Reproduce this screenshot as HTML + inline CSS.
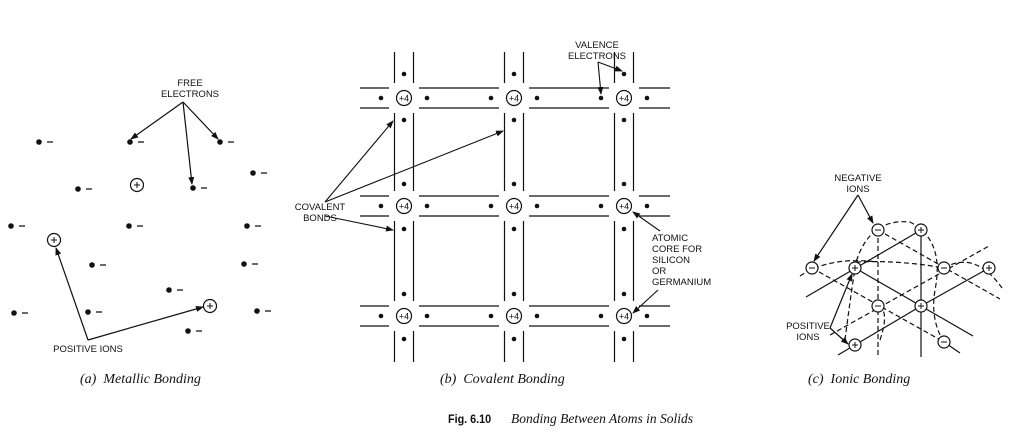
<!DOCTYPE html>
<html><head><meta charset="utf-8"><style>
html,body{margin:0;padding:0;background:#fff;}
svg{display:block;}
.s{font-family:"Liberation Sans",sans-serif;font-size:9.5px;fill:#111;}
.c{font-family:"Liberation Serif",serif;font-style:italic;font-size:14px;fill:#111;}
</style></head><body>
<svg width="1011" height="446" viewBox="0 0 1011 446" xmlns="http://www.w3.org/2000/svg">
<defs><marker id="a" markerWidth="8" markerHeight="6" refX="7" refY="3" orient="auto" markerUnits="userSpaceOnUse"><path d="M0,0 L8,3 L0,6 z" fill="#111"/></marker></defs>
<g stroke="#111" fill="none" stroke-width="1.2">
<line x1="183" y1="102" x2="131" y2="139" marker-end="url(#a)"/>
<line x1="183" y1="102" x2="192" y2="184" marker-end="url(#a)"/>
<line x1="183" y1="102" x2="218" y2="139" marker-end="url(#a)"/>
<line x1="88" y1="340" x2="56" y2="248" marker-end="url(#a)"/>
<line x1="88" y1="340" x2="203" y2="307" marker-end="url(#a)"/>
<circle cx="137" cy="185" r="6.5"/><circle cx="54" cy="240" r="6.5"/><circle cx="210" cy="306" r="6.5"/>
</g>
<g fill="#111">
<circle cx="39" cy="142" r="2.8"/><circle cx="130" cy="142" r="2.8"/><circle cx="220" cy="142" r="2.8"/>
<circle cx="253" cy="173" r="2.8"/><circle cx="78" cy="189" r="2.8"/><circle cx="193" cy="188" r="2.8"/>
<circle cx="11" cy="226" r="2.8"/><circle cx="129" cy="226" r="2.8"/><circle cx="247" cy="226" r="2.8"/>
<circle cx="92" cy="265" r="2.8"/><circle cx="244" cy="264" r="2.8"/><circle cx="169" cy="290" r="2.8"/>
<circle cx="14" cy="313" r="2.8"/><circle cx="88" cy="312" r="2.8"/><circle cx="257" cy="311" r="2.8"/>
<circle cx="188" cy="331" r="2.8"/>
</g>
<g stroke="#111" stroke-width="1.3">
<path d="M47,142h6M138,142h6M228,142h6M261,173h6M86,189h6M201,188h6M19,226h6M137,226h6M255,226h6M100,265h6M252,264h6M177,290h6M22,313h6M96,312h6M265,311h6M196,331h6"/>
<path d="M134,185h6M137,182v6M51,240h6M54,237v6M207,306h6M210,303v6" stroke-width="1"/>
</g>
<text class="s" x="190" y="86" text-anchor="middle">FREE</text>
<text class="s" x="190" y="97" text-anchor="middle">ELECTRONS</text>
<text class="s" x="88" y="352" text-anchor="middle">POSITIVE IONS</text>
<text class="c" x="80" y="383">(a)&#160; Metallic Bonding</text>

<g stroke="#111" stroke-width="1.2" fill="none">
<path d="
M394.5,52V83M394.5,113V191M394.5,221V301M394.5,331V362
M413.5,52V83M413.5,113V191M413.5,221V301M413.5,331V362
M504.5,52V83M504.5,113V191M504.5,221V301M504.5,331V362
M523.5,52V83M523.5,113V191M523.5,221V301M523.5,331V362
M614.5,52V83M614.5,113V191M614.5,221V301M614.5,331V362
M633.5,52V83M633.5,113V191M633.5,221V301M633.5,331V362
M360,88H389M419,88H499M529,88H609M639,88H670
M360,108H389M419,108H499M529,108H609M639,108H670
M360,196H389M419,196H499M529,196H609M639,196H670
M360,216H389M419,216H499M529,216H609M639,216H670
M360,306H389M419,306H499M529,306H609M639,306H670
M360,326H389M419,326H499M529,326H609M639,326H670"/>
<circle cx="404" cy="98" r="7.5"/><circle cx="514" cy="98" r="7.5"/><circle cx="624" cy="98" r="7.5"/>
<circle cx="404" cy="206" r="7.5"/><circle cx="514" cy="206" r="7.5"/><circle cx="624" cy="206" r="7.5"/>
<circle cx="404" cy="316" r="7.5"/><circle cx="514" cy="316" r="7.5"/><circle cx="624" cy="316" r="7.5"/>
<g stroke-width="1.1">
<line x1="598" y1="62" x2="622" y2="71" marker-end="url(#a)"/>
<line x1="598" y1="62" x2="601" y2="94" marker-end="url(#a)"/>
<line x1="325" y1="202" x2="393" y2="121" marker-end="url(#a)"/>
<line x1="325" y1="202" x2="503" y2="131" marker-end="url(#a)"/>
<line x1="325" y1="216" x2="393" y2="230" marker-end="url(#a)"/>
<line x1="660" y1="231" x2="633" y2="212" marker-end="url(#a)"/>
<line x1="658" y1="290" x2="633" y2="313" marker-end="url(#a)"/>
</g>
</g>
<g fill="#111">
<circle cx="381" cy="98" r="2.3"/><circle cx="427" cy="98" r="2.3"/><circle cx="491" cy="98" r="2.3"/><circle cx="537" cy="98" r="2.3"/><circle cx="601" cy="98" r="2.3"/><circle cx="647" cy="98" r="2.3"/>
<circle cx="381" cy="206" r="2.3"/><circle cx="427" cy="206" r="2.3"/><circle cx="491" cy="206" r="2.3"/><circle cx="537" cy="206" r="2.3"/><circle cx="601" cy="206" r="2.3"/><circle cx="647" cy="206" r="2.3"/>
<circle cx="381" cy="316" r="2.3"/><circle cx="427" cy="316" r="2.3"/><circle cx="491" cy="316" r="2.3"/><circle cx="537" cy="316" r="2.3"/><circle cx="601" cy="316" r="2.3"/><circle cx="647" cy="316" r="2.3"/>
<circle cx="404" cy="74" r="2.3"/><circle cx="404" cy="120" r="2.3"/><circle cx="404" cy="184" r="2.3"/><circle cx="404" cy="229" r="2.3"/><circle cx="404" cy="294" r="2.3"/><circle cx="404" cy="339" r="2.3"/>
<circle cx="514" cy="74" r="2.3"/><circle cx="514" cy="120" r="2.3"/><circle cx="514" cy="184" r="2.3"/><circle cx="514" cy="229" r="2.3"/><circle cx="514" cy="294" r="2.3"/><circle cx="514" cy="339" r="2.3"/>
<circle cx="624" cy="74" r="2.3"/><circle cx="624" cy="120" r="2.3"/><circle cx="624" cy="184" r="2.3"/><circle cx="624" cy="229" r="2.3"/><circle cx="624" cy="294" r="2.3"/><circle cx="624" cy="339" r="2.3"/>
</g>
<g class="s" text-anchor="middle" style="font-size:9px">
<text x="404" y="101.5">+4</text><text x="514" y="101.5">+4</text><text x="624" y="101.5">+4</text>
<text x="404" y="209.5">+4</text><text x="514" y="209.5">+4</text><text x="624" y="209.5">+4</text>
<text x="404" y="319.5">+4</text><text x="514" y="319.5">+4</text><text x="624" y="319.5">+4</text>
</g>
<text class="s" x="597" y="48" text-anchor="middle">VALENCE</text>
<text class="s" x="597" y="59" text-anchor="middle">ELECTRONS</text>
<text class="s" x="320" y="210" text-anchor="middle">COVALENT</text>
<text class="s" x="320" y="221" text-anchor="middle">BONDS</text>
<text class="s" x="652" y="241">ATOMIC</text>
<text class="s" x="652" y="252">CORE FOR</text>
<text class="s" x="652" y="263">SILICON</text>
<text class="s" x="652" y="274">OR</text>
<text class="s" x="652" y="285">GERMANIUM</text>
<text class="c" x="440" y="383">(b)&#160; Covalent Bonding</text>

<g stroke="#111" stroke-width="1.2" fill="none">
<path d="M806,297L921,230M855,268L973,336M921,230V357M921,306L989,268M838,355L921,306M944,342L960,353"/>
<path stroke-dasharray="5,3" d="M878,230V357M878,230L1000,299M812,268L944,342M830,335L989,246M800,276Q830,256 878,262M944,268Q975,250 1002,288M845,340Q850,300 856,262Q870,218 910,222Q945,240 935,290Q930,320 944,342M856,262Q900,260 944,268M880,340Q890,310 878,306"/>
<g fill="#fff">
<circle cx="878" cy="230" r="6"/><circle cx="812" cy="268" r="6"/><circle cx="944" cy="268" r="6"/><circle cx="878" cy="306" r="6"/><circle cx="944" cy="342" r="6"/>
<circle cx="921" cy="230" r="6"/><circle cx="855" cy="268" r="6"/><circle cx="989" cy="268" r="6"/><circle cx="921" cy="306" r="6"/><circle cx="855" cy="345" r="6"/>
</g>
<path d="M875,230h6M809,268h6M941,268h6M875,306h6M941,342h6M918,230h6M921,227v6M852,268h6M855,265v6M986,268h6M989,265v6M918,306h6M921,303v6M852,345h6M855,342v6" stroke-width="1"/>
<line x1="858" y1="195" x2="814" y2="261" marker-end="url(#a)"/>
<line x1="858" y1="195" x2="873" y2="223" marker-end="url(#a)"/>
<line x1="830" y1="328" x2="852" y2="274" marker-end="url(#a)"/>
<line x1="830" y1="328" x2="848" y2="344" marker-end="url(#a)"/>
</g>
<text class="s" x="858" y="181" text-anchor="middle">NEGATIVE</text>
<text class="s" x="858" y="192" text-anchor="middle">IONS</text>
<text class="s" x="808" y="329" text-anchor="middle">POSITIVE</text>
<text class="s" x="808" y="340" text-anchor="middle">IONS</text>
<text class="c" x="808" y="383">(c)&#160; Ionic Bonding</text>

<text x="448" y="423" style="font-family:'Liberation Sans',sans-serif;font-weight:bold;font-size:12px;fill:#111" transform="translate(448,0) scale(0.9,1) translate(-448,0)">Fig. 6.10</text>
<text class="c" x="511" y="423" style="font-size:13.5px">Bonding Between Atoms in Solids</text>
</svg>
</body></html>
